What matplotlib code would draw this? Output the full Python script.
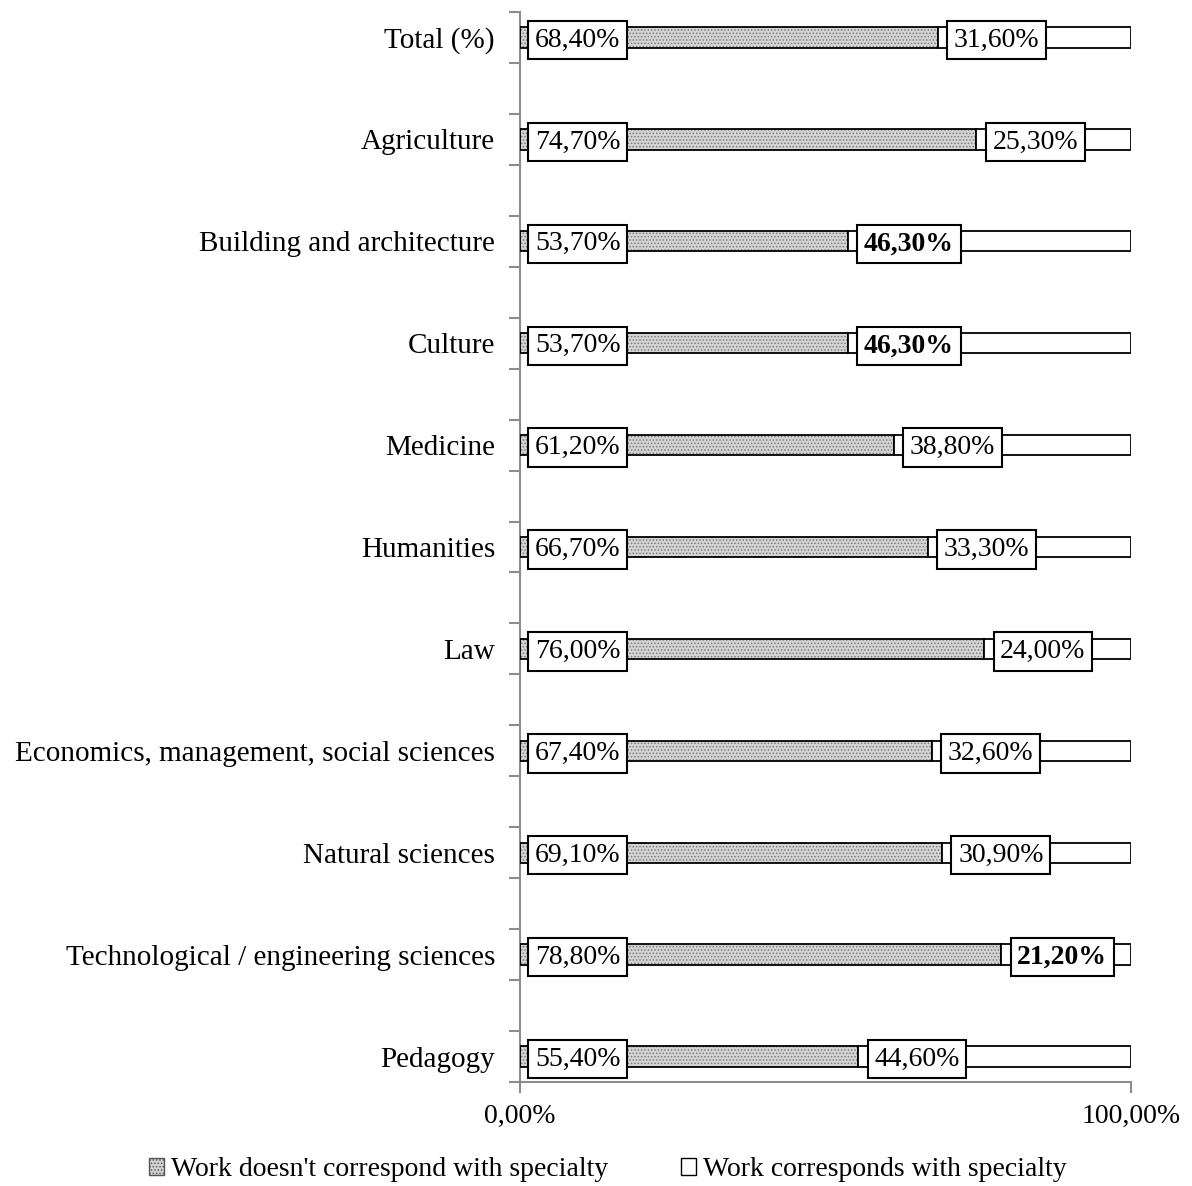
import matplotlib.pyplot as plt
from matplotlib.patches import Patch
from matplotlib.ticker import FixedLocator

plt.rcParams['font.family'] = ['Liberation Serif', 'DejaVu Serif']
plt.rcParams['hatch.linewidth'] = 0.7

# categories top to bottom
categories = ["Total (%)", "Agriculture", "Building and architecture", "Culture",
              "Medicine", "Humanities", "Law",
              "Economics, management, social sciences", "Natural sciences",
              "Technological / engineering sciences", "Pedagogy"]
not_corresp = [68.4, 74.7, 53.7, 53.7, 61.2, 66.7, 76.0, 67.4, 69.1, 78.8, 55.4]
corresp = [31.6, 25.3, 46.3, 46.3, 38.8, 33.3, 24.0, 32.6, 30.9, 21.2, 44.6]
not_labels = ["68,40%", "74,70%", "53,70%", "53,70%", "61,20%", "66,70%",
              "76,00%", "67,40%", "69,10%", "78,80%", "55,40%"]
corr_labels = ["31,60%", "25,30%", "46,30%", "46,30%", "38,80%", "33,30%",
               "24,00%", "32,60%", "30,90%", "21,20%", "44,60%"]
bold_corr = [False, False, True, True, False, False, False, False, False, True, False]

fig = plt.figure(figsize=(11.92, 11.86), dpi=100)
ax = fig.add_axes([520/1192, 104/1186, 611/1192, 1070/1186])

ypos = list(range(len(categories)))
h = 0.2
# dotted fill then a black outline on top
ax.barh(ypos, not_corresp, height=h, color='#d4d4d4', edgecolor='#7a7a7a',
        hatch='.....', linewidth=0, zorder=2)
ax.barh(ypos, not_corresp, height=h, fill=False, edgecolor='black', linewidth=1.3, zorder=3)
ax.barh(ypos, corresp, left=not_corresp, height=h, color='white',
        edgecolor='black', linewidth=1.3, zorder=3)

box = dict(boxstyle='square,pad=0.24', fc='white', ec='black', lw=1.5)
dy = 0.025
for i in ypos:
    ax.text(2.45, i + dy, not_labels[i], ha='left', va='center', fontsize=20,
            bbox=box, zorder=5)
    ax.text(not_corresp[i] + 2.6, i + dy, corr_labels[i], ha='left', va='center', fontsize=20,
            fontweight='bold' if bold_corr[i] else 'normal', bbox=box, zorder=5)

ax.set_xlim(0, 100)
ax.set_ylim(len(categories) - 0.75, -0.25)
ax.set_yticks(ypos)
ax.set_yticklabels(categories, fontsize=21)
ax.tick_params(axis='y', which='major', length=0, pad=18)
ax.yaxis.set_minor_locator(FixedLocator([k * 0.5 - 0.25 for k in range(2 * len(categories) + 1)]))
ax.tick_params(axis='y', which='minor', length=8, width=1.5, color='#8c8c8c')
ax.set_xticks([0, 100])
ax.set_xticklabels(["0,00%", "100,00%"], fontsize=20)
ax.tick_params(axis='x', length=8, width=1.5, color='#8c8c8c', pad=8)

for s in ['top', 'right']:
    ax.spines[s].set_visible(False)
for s in ['left', 'bottom']:
    ax.spines[s].set_color('#8c8c8c')
    ax.spines[s].set_linewidth(1.5)

handles = [Patch(facecolor='#d4d4d4', edgecolor='#555555', hatch='.....', linewidth=1),
           Patch(facecolor='white', edgecolor='black', linewidth=1)]
fig.legend(handles, ["Work doesn't correspond with specialty", "Work corresponds with specialty"],
           loc='center', bbox_to_anchor=(0.51, 1 - 1170/1186), ncol=2, frameon=False,
           fontsize=20, handlelength=0.55, handleheight=0.55, handletextpad=0.25,
           columnspacing=2.6)

fig.savefig('out.png', dpi=100)
